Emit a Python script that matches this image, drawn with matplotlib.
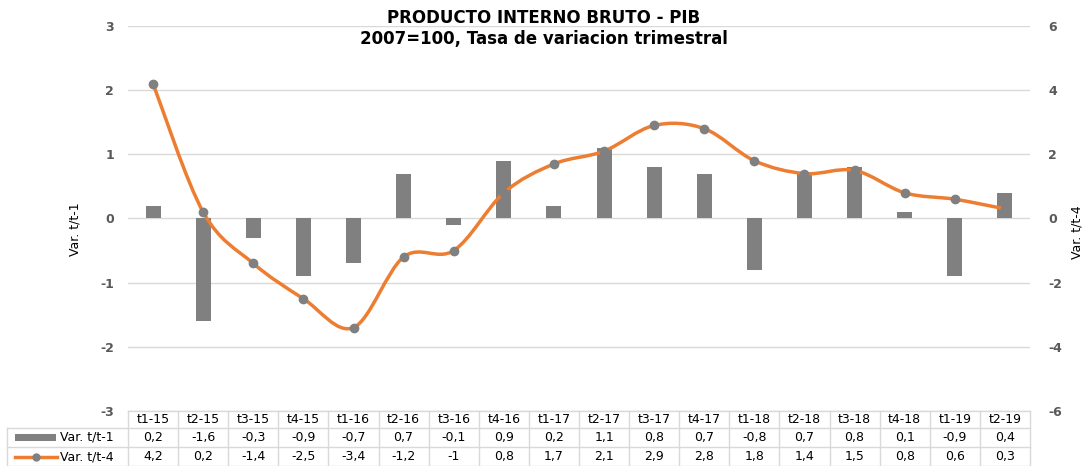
import numpy as np
import matplotlib.pyplot as plt
import matplotlib.transforms as mtransforms
from matplotlib.path import Path
from matplotlib.patches import PathPatch, Rectangle
from matplotlib.lines import Line2D

plt.rcParams['font.family'] = ['DejaVu Sans']
plt.rcParams['axes.unicode_minus'] = False

# Data
quarters = ["t1-15", "t2-15", "t3-15", "t4-15", "t1-16", "t2-16", "t3-16", "t4-16", "t1-17",
            "t2-17", "t3-17", "t4-17", "t1-18", "t2-18", "t3-18", "t4-18", "t1-19", "t2-19"]
var_tt1 = [0.2, -1.6, -0.3, -0.9, -0.7, 0.7, -0.1, 0.9, 0.2, 1.1, 0.8, 0.7, -0.8, 0.7, 0.8, 0.1, -0.9, 0.4]
var_tt4 = [4.2, 0.2, -1.4, -2.5, -3.4, -1.2, -1, 0.8, 1.7, 2.1, 2.9, 2.8, 1.8, 1.4, 1.5, 0.8, 0.6, 0.3]
label_tt1 = "Var. t/t-1"
label_tt4 = "Var. t/t-4"

BAR_COLOR = "#808080"
LINE_COLOR = "#ED7D31"
GRID_COLOR = "#D9D9D9"
TICK_COLOR = "#595959"

W, H = 1083, 466
fig = plt.figure(figsize=(W / 100, H / 100), dpi=100)

# plot area in pixels
px_left, px_right, px_top, px_bottom = 128, 1030, 26, 411
ax = fig.add_axes([px_left / W, 1 - px_bottom / H, (px_right - px_left) / W, (px_bottom - px_top) / H])
ax2 = ax.twinx()

x = np.arange(len(quarters))

# bars on the left axis
ax.bar(x, var_tt1, width=0.3, color=BAR_COLOR, zorder=2)
ax.set_ylim(-3, 3)
ax.set_yticks(range(-3, 4))
ax.set_xlim(-0.5, len(quarters) - 0.5)
ax.set_xticks([])
ax.yaxis.grid(True, color=GRID_COLOR, lw=1)
ax.set_axisbelow(True)

# smoothed line (Excel-like) on the right axis
pts = np.column_stack([x, var_tt4]).astype(float)
verts = [pts[0]]
codes = [Path.MOVETO]
n = len(pts)
for i in range(n - 1):
    p0 = pts[i - 1] if i > 0 else pts[i]
    p1, p2 = pts[i], pts[i + 1]
    p3 = pts[i + 2] if i + 2 < n else pts[i + 1]
    c1 = p1 + (p2 - p0) / 6
    c2 = p2 - (p3 - p1) / 6
    verts += [c1, c2, p2]
    codes += [Path.CURVE4] * 3
ax2.add_patch(PathPatch(Path(verts, codes), fill=False, edgecolor=LINE_COLOR, lw=2.5, zorder=3))
ax2.plot(x, var_tt4, ls="none", marker="o", ms=6, color=BAR_COLOR, zorder=4)
ax2.set_ylim(-6, 6)
ax2.set_yticks(range(-6, 7, 2))

for a in (ax, ax2):
    for s in a.spines.values():
        s.set_visible(False)
    a.tick_params(length=0, labelsize=9, labelcolor=TICK_COLOR)
    for lbl in a.get_yticklabels():
        lbl.set_fontweight("bold")
ax.tick_params(axis="y", pad=10)
ax2.tick_params(axis="y", pad=13)

ax.set_ylabel(label_tt1, fontsize=9)
ax2.set_ylabel(label_tt4, fontsize=9)
ax.yaxis.set_label_coords((82 - px_left) / (px_right - px_left), (px_bottom - 229) / (px_bottom - px_top))
ax2.yaxis.set_label_coords((1070 - px_left) / (px_right - px_left), (px_bottom - 232) / (px_bottom - px_top))

fig.text(544 / W, 1 - 18 / H, "PRODUCTO INTERNO BRUTO - PIB", ha="center", va="center",
         fontsize=12, fontweight="bold")
fig.text(544 / W, 1 - 39 / H, "2007=100, Tasa de variacion trimestral", ha="center", va="center",
         fontsize=12, fontweight="bold")

# data table below the plot
tr = mtransforms.blended_transform_factory(ax.transData, fig.transFigure)
row_tops = [411, 428, 447, 466]
fy = lambda py: 1 - py / H
lw_t = 1.0
for k, py in enumerate(row_tops):
    x0 = px_left if k == 0 else 7
    fig.add_artist(Line2D([x0 / W, px_right / W], [fy(py), fy(py)], color=GRID_COLOR, lw=lw_t))
for i in range(len(quarters) + 1):
    ax.plot([i - 0.5, i - 0.5], [fy(row_tops[0]), fy(row_tops[-1])], transform=tr,
            color=GRID_COLOR, lw=lw_t, clip_on=False)
fig.add_artist(Line2D([7 / W, 7 / W], [fy(row_tops[1]), fy(row_tops[-1])], color=GRID_COLOR, lw=lw_t))

fmt = lambda v: ("%g" % v).replace(".", ",")
for i, q in enumerate(quarters):
    ax.text(i, fy((row_tops[0] + row_tops[1]) / 2), q, transform=tr, ha="center", va="center", fontsize=9)
    ax.text(i, fy((row_tops[1] + row_tops[2]) / 2), fmt(var_tt1[i]), transform=tr, ha="center", va="center", fontsize=9)
    ax.text(i, fy((row_tops[2] + row_tops[3]) / 2), fmt(var_tt4[i]), transform=tr, ha="center", va="center", fontsize=9)

# row labels with legend keys
y1 = fy((row_tops[1] + row_tops[2]) / 2)
y2 = fy((row_tops[2] + row_tops[3]) / 2)
fig.add_artist(Rectangle((15 / W, y1 - 3.5 / H), 41 / W, 7 / H, color=BAR_COLOR, lw=0))
fig.add_artist(Line2D([15 / W, 57 / W], [y2, y2], color=LINE_COLOR, lw=2.5))
fig.add_artist(Line2D([36 / W], [y2], marker="o", ms=5, color=BAR_COLOR, ls="none"))
fig.text(60 / W, y1, label_tt1, ha="left", va="center", fontsize=9)
fig.text(60 / W, y2, label_tt4, ha="left", va="center", fontsize=9)

fig.savefig("out.png", dpi=100)
